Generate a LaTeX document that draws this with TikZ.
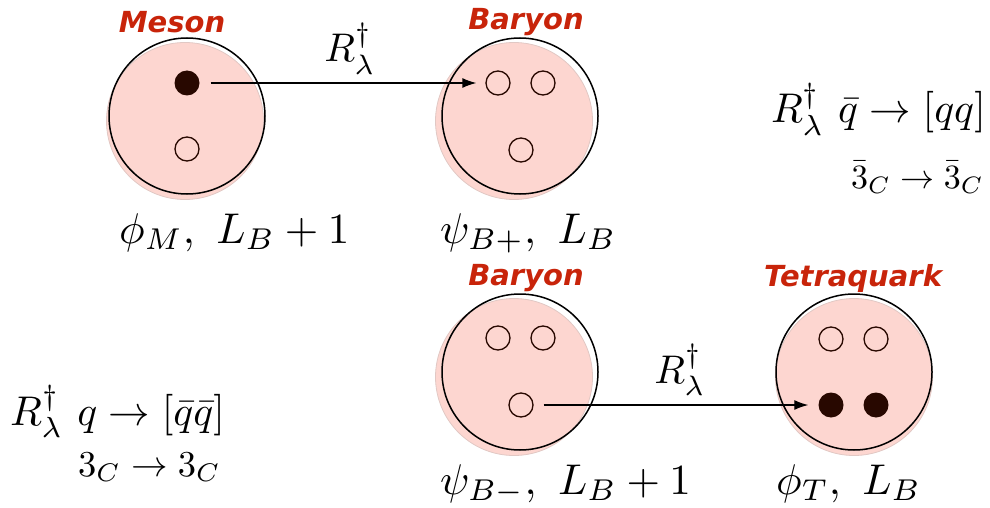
\documentclass[tikz,border=0pt]{standalone}
\usepackage{fontspec}
\newfontfamily\titlefont{DejaVu Sans}
\usetikzlibrary{arrows.meta}
\definecolor{pinkfill}{RGB}{253,214,208}
\definecolor{pinkedge}{RGB}{225,200,196}
\definecolor{titlered}{RGB}{200,36,10}
\definecolor{quark}{RGB}{40,8,0}
\newcommand{\labsize}[1]{\scalebox{4.3}{#1}}
\newcommand{\formsize}[1]{\scalebox{4.15}{#1}}
\begin{document}
\begin{tikzpicture}[x=1pt,y=-1pt,
  pinkball/.style={circle, fill=pinkfill, draw=pinkedge, line width=0.8pt, minimum size=157pt, inner sep=0pt},
  shell/.style={circle, draw=black, line width=1.5pt, minimum size=156pt, inner sep=0pt},
  openq/.style={circle, draw=quark, line width=1.3pt, minimum size=24pt, inner sep=0pt},
  fullq/.style={circle, fill=quark, minimum size=25pt, inner sep=0pt},
  title/.style={font=\titlefont\bfseries\itshape\fontsize{29}{35}\selectfont, text=titlered, inner sep=0pt},
  lab/.style={inner sep=0pt, anchor=base west},
  form/.style={inner sep=0pt},
  arr/.style={-{Latex[length=14pt,width=10pt]}, line width=1.3pt}]
\useasboundingbox (0,0) rectangle (990,508);
% Meson
\node[pinkball] (mpink) at (185,121) {};
\node[shell] (meson) at (187,116) {};
\node[fullq] (m1) at (187,83) {};
\node[openq] (m2) at (187,149) {};
\node[title] (tmeson) at (172,22) {Meson};
% Baryon top
\node[pinkball] (bapink) at (514,121) {};
\node[shell] (ba) at (520,116) {};
\node[openq] (ba1) at (498,83) {};
\node[openq] (ba2) at (543,83) {};
\node[openq] (ba3) at (521,150) {};
\node[title] (tba) at (526,22) {Baryon};
% Baryon bottom
\node[pinkball] (bbpink) at (514,377) {};
\node[shell] (bb) at (520,372) {};
\node[openq] (bb1) at (498,338) {};
\node[openq] (bb2) at (543,338) {};
\node[openq] (bb3) at (521,405) {};
\node[title] (tbb) at (526,278) {Baryon};
% Tetraquark
\node[pinkball] (tpink) at (854,377) {};
\node[shell] (tq) at (854,372) {};
\node[openq] (t1) at (831,339) {};
\node[openq] (t2) at (876,339) {};
\node[fullq] (t3) at (831,405) {};
\node[fullq] (t4) at (876,405) {};
\node[title] (ttq) at (853,278) {Tetraquark};
% arrows
\draw[arr] ([xshift=11pt]m1.east) -- ([xshift=-9pt]ba1.west);
\draw[arr] ([xshift=10pt]bb3.east) -- ([xshift=-10pt]t3.west);
\node[form, anchor=base] (r1) at (350,62) {\scalebox{4}{$R^\dagger_\lambda$}};
\node[form, anchor=base] (r2) at (680,383) {\scalebox{4}{$R^\dagger_\lambda$}};
% labels
\node[lab] (lm) at (119,243) {\labsize{$\phi_M,\ L_B+1$}};
\node[lab] (lba) at (440,243) {\labsize{$\psi_{B+},\ L_B$}};
\node[lab] (lbb) at (440,494) {\labsize{$\psi_{B-},\ L_B+1$}};
\node[lab] (ltq) at (776,494) {\labsize{$\phi_T,\ L_B$}};
% formulas
\node[form, anchor=base east] (fr1) at (986,123) {\formsize{$R^\dagger_\lambda\ \bar q\to[qq]$}};
\node[form, anchor=base east] (fr2) at (984,188) {\scalebox{3.4}{$\bar 3_C\to\bar 3_C$}};
\node[form, anchor=base west] (fl1) at (10,425) {\formsize{$R^\dagger_\lambda\ q\to[\bar q\bar q]$}};
\node[form, anchor=base west] (fl2) at (78,476) {\scalebox{3.65}{$3_C\to 3_C$}};
\end{tikzpicture}
\end{document}
